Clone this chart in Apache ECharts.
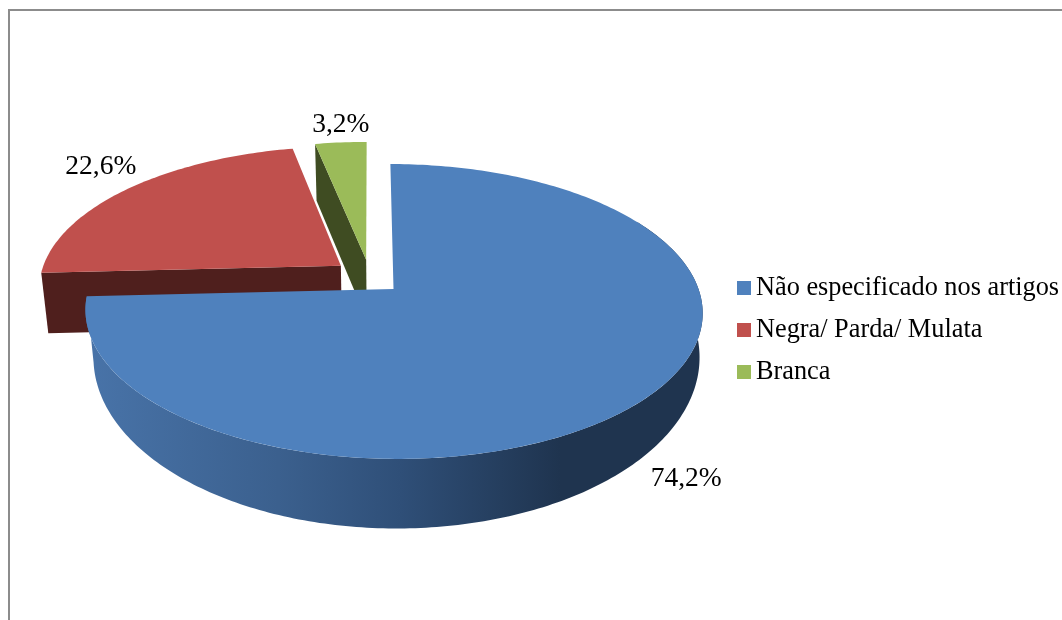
<!DOCTYPE html>
<html>
<head>
<meta charset="utf-8">
<style>html,body{margin:0;padding:0;background:#fff}#c{width:1062px;height:620px}</style>
<script src="https://cdn.jsdelivr.net/npm/echarts@6/dist/echarts.min.js"></script>
</head>
<body>
<div id="c"></div>
<script>
// Data
const categories = ['Não especificado nos artigos', 'Negra/ Parda/ Mulata', 'Branca'];
const values = [74.2, 22.6, 3.2];

// Style
const topColors = ['#4f81bd', '#c0504d', '#9bbb59'];
const sideColors = ['#4f81bd', '#4f1f1d', '#3f4c22'];
const explode = [[0, 0], [-0.175, -0.165], [-0.09, -0.21]];
const labelOffsets = [[43, 79], [-27, -22], [0, -18]];
const stackOrder = [3, 2, 1];
const FONT = '"Liberation Serif", "Times New Roman", serif';

// Projection of the tilted disc
const apexX = 393.5, apexY = 289, radiusX = 305, radiusY = 144;
const persp = 0.1525, shear = 0.025, depth = 61;
// Projection of the lower rim of the large slice's outer wall
const wallX = 396.5, wallY = 354, wallRadiusX = 303, wallRadiusY = 171, wallPersp = 0.02;

function project(u, v, h) {
  const d = 1 - persp * v;
  const sy = radiusY * v / d * (1 + 0.03 * h);
  const sx = radiusX * u / d * (1 - 0.02 * h);
  return [apexX + sx + shear * (radiusY * v / d), apexY + sy + depth * h];
}
function rimPoint(i, deg, h) {
  const a = deg * Math.PI / 180;
  return project(explode[i][0] + Math.sin(a), explode[i][1] - Math.cos(a), h);
}
function apexPoint(i, h) {
  return project(explode[i][0], explode[i][1], h);
}
function wallPoint(deg) {
  const a = deg * Math.PI / 180;
  const d = 1 - wallPersp * -Math.cos(a);
  return [wallX + wallRadiusX * Math.sin(a) / d, wallY - wallRadiusY * Math.cos(a) / d];
}
function sweep(from, to, fn) {
  const pts = [];
  const n = Math.max(2, Math.ceil(Math.abs(to - from)));
  for (let k = 0; k <= n; k++) pts.push(fn(from + (to - from) * k / n));
  return pts;
}

const total = values.reduce((a, b) => a + b, 0);
const starts = [];
values.reduce((acc, v, i) => { starts[i] = acc; return acc + v; }, 0);

function poly(points, fill) {
  return { type: 'polygon', shape: { points }, style: { fill, stroke: null } };
}

function makeRender(i) {
  return function (params, api) {
    const from = starts[i] / total * 360;
    const to = from + api.value(0) / total * 360;
    const mid = (from + to) / 2;
    const children = [];
    if (i === 0) {
      const a = Math.max(from, 60);
      const wall = sweep(a, to, d => rimPoint(i, d, 0)).concat(sweep(to, a, wallPoint));
      const fill = new echarts.graphic.LinearGradient(90, 0, 560, 0, [
        { offset: 0, color: '#4873a8' },
        { offset: 0.4, color: '#3b608e' },
        { offset: 0.66, color: '#2f4f78' },
        { offset: 1, color: '#1f344f' }
      ], true);
      children.push(poly(wall, fill));
    } else {
      children.push(poly([apexPoint(i, 0), rimPoint(i, from, 0), rimPoint(i, from, 1), apexPoint(i, 1)], sideColors[i]));
    }
    children.push(poly([apexPoint(i, 0)].concat(sweep(from, to, d => rimPoint(i, d, 0))), topColors[i]));
    const anchor = rimPoint(i, mid, 0);
    children.push({
      type: 'text',
      z2: 10,
      style: {
        x: anchor[0] + labelOffsets[i][0],
        y: anchor[1] + labelOffsets[i][1],
        text: api.value(0).toFixed(1).replace('.', ',') + '%',
        font: '27.5px ' + FONT,
        fill: '#000',
        align: 'center',
        verticalAlign: 'middle'
      }
    });
    return { type: 'group', children };
  };
}

const chart = echarts.init(document.getElementById('c'), null, { renderer: 'canvas' });
chart.setOption({
  animation: false,
  backgroundColor: '#fff',
  tooltip: { show: false },
  legend: {
    orient: 'vertical',
    left: 732,
    top: 270,
    data: categories,
    icon: 'rect',
    itemWidth: 14,
    itemHeight: 14,
    itemGap: 16,
    selectedMode: false,
    textStyle: { fontFamily: FONT, fontSize: 26.3, color: '#000' }
  },
  graphic: [
    { type: 'line', shape: { x1: 9, y1: 10, x2: 1062, y2: 10 }, style: { stroke: '#8c8c8c', lineWidth: 2 } },
    { type: 'line', shape: { x1: 9, y1: 9, x2: 9, y2: 620 }, style: { stroke: '#8c8c8c', lineWidth: 2 } }
  ],
  series: categories.map((name, i) => ({
    type: 'custom',
    name,
    coordinateSystem: 'none',
    z: stackOrder[i],
    silent: true,
    itemStyle: { color: topColors[i] },
    renderItem: makeRender(i),
    data: [[values[i]]]
  }))
});
</script>
</body>
</html>
